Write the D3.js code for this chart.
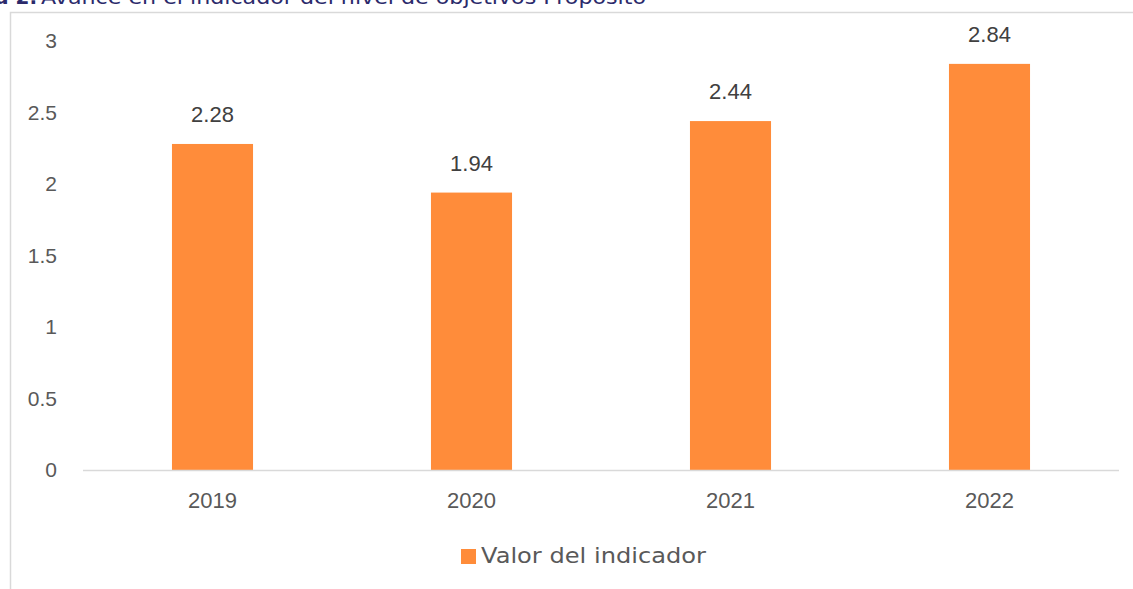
<!DOCTYPE html>
<html>
<head>
<meta charset="utf-8">
<script src="https://cdn.jsdelivr.net/npm/d3@7"></script>
<style>
  body { margin: 0; background: #fff; }
  svg { display: block; }
</style>
</head>
<body>
<div id="chart"></div>
<script>
// Chart data
const years = ['2019', '2020', '2021', '2022']
const values = [2.28, 1.94, 2.44, 2.84]
const yTicks = [0, 0.5, 1, 1.5, 2, 2.5, 3]
const seriesName = 'Valor del indicador'

const width = 1133
const height = 589
const plot = { left: 83, right: 1119, top: 41, bottom: 470 }

const svg = d3.select('#chart')
  .append('svg')
  .attr('width', width)
  .attr('height', height)

// title, cut off at the top of the picture like the source
svg.append('text')
  .attr('x', 37)
  .attr('y', 4)
  .attr('text-anchor', 'end')
  .attr('font-family', 'DejaVu Sans, sans-serif')
  .attr('font-size', 20)
  .attr('font-weight', 'bold')
  .attr('fill', '#2b2a6b')
  .text('Gráfica 2.')
svg.append('text')
  .attr('x', 41)
  .attr('y', 4)
  .attr('font-family', 'DejaVu Sans, sans-serif')
  .attr('font-size', 20)
  .attr('fill', '#2b2a6b')
  .attr('textLength', 605)
  .attr('lengthAdjust', 'spacingAndGlyphs')
  .text('Avance en el indicador del nivel de objetivos Propósito')

// chart frame
svg.append('path')
  .attr('d', `M10.5,${height} V12.5 H${width}`)
  .attr('fill', 'none')
  .attr('stroke', '#d9d9d9')
  .attr('stroke-width', 1.5)

const x = d3.scaleBand()
  .domain(years)
  .range([plot.left, plot.right])
  .paddingInner(0.687)
  .paddingOuter(0.3435)

const y = d3.scaleLinear()
  .domain([0, 3])
  .range([plot.bottom, plot.top])

// y tick labels
svg.append('g')
  .selectAll('text')
  .data(yTicks)
  .enter()
  .append('text')
  .attr('x', 57)
  .attr('y', d => y(d))
  .attr('dy', '0.35em')
  .attr('text-anchor', 'end')
  .attr('font-family', 'Liberation Sans, Arial, sans-serif')
  .attr('font-size', 21)
  .attr('fill', '#595959')
  .text(d => d)

// bars
svg.selectAll('rect.bar')
  .data(values)
  .enter()
  .append('rect')
  .attr('class', 'bar')
  .attr('x', (d, i) => x(years[i]))
  .attr('y', d => y(d))
  .attr('width', x.bandwidth())
  .attr('height', d => y(0) - y(d))
  .attr('fill', '#ff8c3a')

// x axis line
svg.append('line')
  .attr('x1', plot.left)
  .attr('x2', plot.right)
  .attr('y1', y(0) + 0.5)
  .attr('y2', y(0) + 0.5)
  .attr('stroke', '#d9d9d9')
  .attr('stroke-width', 1.5)

// x labels
svg.append('g')
  .selectAll('text')
  .data(years)
  .enter()
  .append('text')
  .attr('x', d => x(d) + x.bandwidth() / 2)
  .attr('y', 508)
  .attr('text-anchor', 'middle')
  .attr('font-family', 'Liberation Sans, Arial, sans-serif')
  .attr('font-size', 22)
  .attr('fill', '#595959')
  .text(d => d)

// data labels
svg.append('g')
  .selectAll('text')
  .data(values)
  .enter()
  .append('text')
  .attr('x', (d, i) => x(years[i]) + x.bandwidth() / 2)
  .attr('y', d => y(d) - 22)
  .attr('text-anchor', 'middle')
  .attr('font-family', 'Liberation Sans, Arial, sans-serif')
  .attr('font-size', 22)
  .attr('fill', '#404040')
  .text(d => d.toFixed(2))

// legend
const legend = svg.append('g')
legend.append('rect')
  .attr('x', 461)
  .attr('y', 549)
  .attr('width', 15)
  .attr('height', 15)
  .attr('fill', '#ff8c3a')
legend.append('text')
  .attr('x', 481)
  .attr('y', 563)
  .attr('font-family', 'DejaVu Sans, sans-serif')
  .attr('font-size', 21)
  .attr('fill', '#595959')
  .attr('textLength', 225)
  .attr('lengthAdjust', 'spacingAndGlyphs')
  .text(seriesName)
</script>
</body>
</html>
